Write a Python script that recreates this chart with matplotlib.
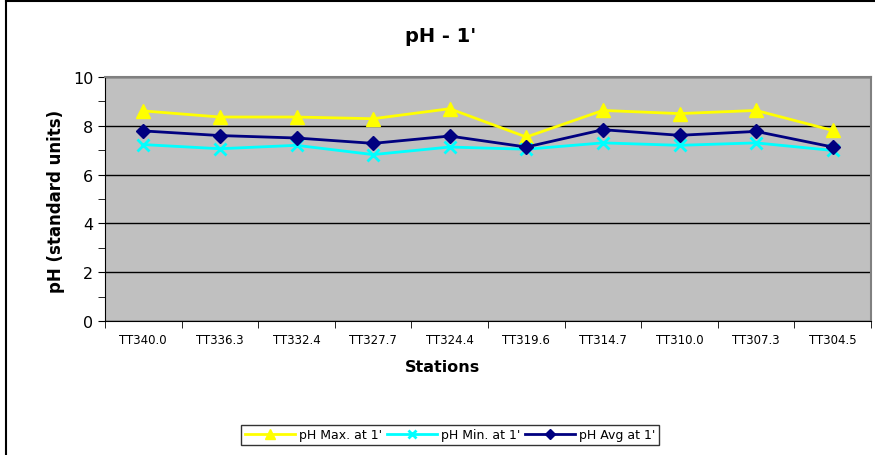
import matplotlib
matplotlib.use('Agg')
import matplotlib.pyplot as plt
from matplotlib.lines import Line2D
from matplotlib.ticker import MultipleLocator, FixedLocator, NullFormatter

stations = ['TT340.0', 'TT336.3', 'TT332.4', 'TT327.7', 'TT324.4',
            'TT319.6', 'TT314.7', 'TT310.0', 'TT307.3', 'TT304.5']
ph_max = [8.61, 8.36, 8.36, 8.29, 8.70, 7.54, 8.63, 8.50, 8.63, 7.81]
ph_min = [7.23, 7.06, 7.20, 6.82, 7.13, 7.04, 7.30, 7.20, 7.30, 6.99]
ph_avg = [7.79, 7.60, 7.50, 7.28, 7.58, 7.13, 7.84, 7.61, 7.77, 7.13]

plt.rcParams['font.family'] = ['DejaVu Sans']

W, H = 875, 456
fig = plt.figure(figsize=(W / 100, H / 100), dpi=100)
ax = fig.add_axes([105/W, 1 - 322/H, (871-105)/W, (322-78)/H])

# chart frame: only top and left edges show
fig.add_artist(Line2D([6/W, 6/W], [0, 1 - 2/H], transform=fig.transFigure, color='black', lw=1.5))
fig.add_artist(Line2D([6/W, 1], [1 - 2/H, 1 - 2/H], transform=fig.transFigure, color='black', lw=1.5))

x = list(range(len(stations)))
ax.set_facecolor('#C0C0C0')
ax.plot(x, ph_max, color='#FFFF00', lw=2, marker='^', ms=10, label="pH Max. at 1'", zorder=3)
ax.plot(x, ph_min, color='#00FFFF', lw=2, marker='x', ms=9, mew=2, label="pH Min. at 1'", zorder=3)
ax.plot(x, ph_avg, color='#000080', lw=2, marker='D', ms=7, label="pH Avg at 1'", zorder=4)

ax.set_xlim(-0.5, len(stations) - 0.5)
ax.set_ylim(0, 10)
ax.yaxis.set_major_locator(MultipleLocator(2))
ax.yaxis.set_minor_locator(MultipleLocator(1))
ax.grid(axis='y', which='major', color='black', lw=1)
ax.set_axisbelow(True)

ax.set_xticks(x)
ax.set_xticklabels(stations, fontsize=8.5)
ax.tick_params(axis='x', which='major', length=0, pad=9)
ax.xaxis.set_minor_locator(FixedLocator([i - 0.5 for i in range(len(stations) + 1)]))
ax.xaxis.set_minor_formatter(NullFormatter())
ax.tick_params(axis='x', which='minor', length=5, color='black')
ax.tick_params(axis='y', which='major', labelsize=11.5, length=5)
ax.tick_params(axis='y', which='minor', length=5)

for side in ['top', 'right']:
    ax.spines[side].set_color('#808080')
    ax.spines[side].set_linewidth(1.5)
for side in ['left', 'bottom']:
    ax.spines[side].set_color('black')

fig.text(442/W, 1 - 368/H, 'Stations', ha='center', va='center', fontsize=11.5, fontweight='bold')
fig.text(56/W, 1 - 201/H, 'pH (standard units)', ha='center', va='center', rotation=90,
         fontsize=12, fontweight='bold')
fig.text(441/W, 1 - 36/H, "pH - 1'", ha='center', va='center', fontsize=14, fontweight='bold')

leg = fig.legend(loc='center', bbox_to_anchor=(450/W, 1 - 436/H), ncol=3, fontsize=9,
                 frameon=True, fancybox=False, edgecolor='black', handlelength=4,
                 columnspacing=0.4, handletextpad=0.3, borderpad=0.3, markerscale=0.7)
leg.get_frame().set_linewidth(1)

fig.savefig('out.png', dpi=100)
